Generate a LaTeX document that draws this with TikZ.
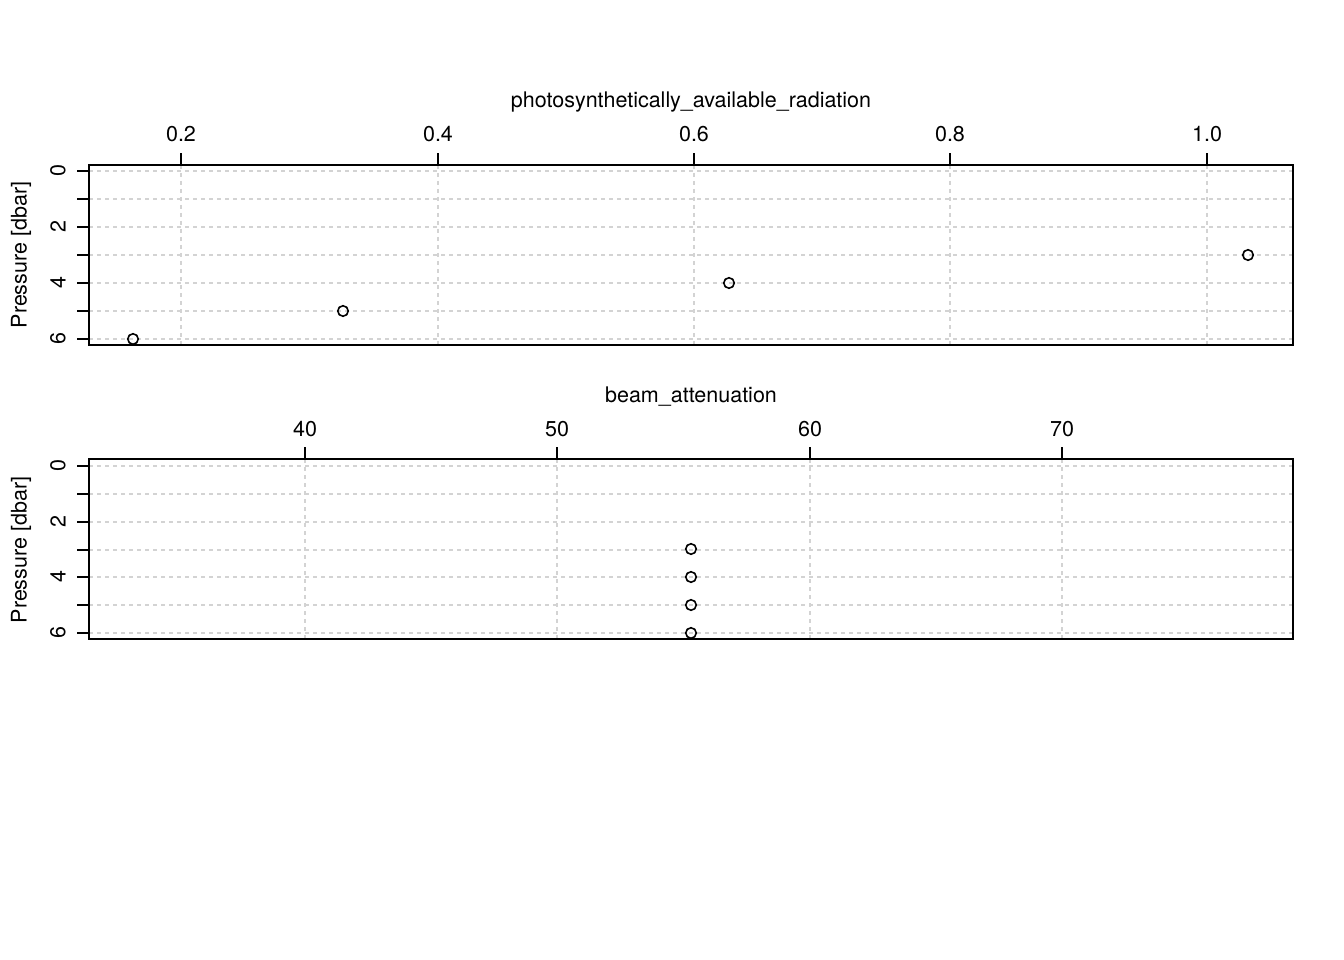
\documentclass[tikz,border=0pt]{standalone}
\usepackage{fontspec}
\setmainfont{TeX Gyre Heros}
\begin{document}
\begin{tikzpicture}[x=1pt,y=-1pt,
  gridline/.style={draw={rgb,255:red,211;green,211;blue,211},line width=1.1pt,dash pattern=on 4pt off 4pt},
  frame/.style={draw=black,line width=1.6pt},
  tick/.style={draw=black,line width=1.6pt},
  lbl/.style={font=\fontsize{21.5}{25}\selectfont,inner sep=0pt},
  pt/.style={circle,draw=black,line width=1.6pt,minimum size=10.5pt,inner sep=0pt}]
\useasboundingbox (0,0) rectangle (1344,960);
% ---------- top panel ----------
\foreach \x in {181,438,694,950,1207} \draw[gridline] (\x,165) -- (\x,345);
\foreach \y in {171,199,227,255,283,311,339} \draw[gridline] (89,\y) -- (1293,\y);
\draw[frame] (89,165) rectangle (1293,345);
\foreach \x/\t in {181/0.2,438/0.4,694/0.6,950/0.8,1207/1.0} {
  \draw[tick] (\x,165) -- (\x,153);
  \node[lbl] at (\x,134) {\t};
}
\foreach \y in {171,199,227,255,283,311,339} \draw[tick] (89,\y) -- (77,\y);
\foreach \y/\t in {171/0,227/2,283/4,339/6} \node[lbl,rotate=90] at (58,\y) {\t};
\node[lbl,rotate=90] (ylabA) at (21,255) {Pressure [dbar]};
\node[lbl] (titleA) at (691,102) {photosynthetically\_available\_radiation};
\node[pt] (a6) at (133,339) {};
\node[pt] (a5) at (343,311) {};
\node[pt] (a4) at (729,283) {};
\node[pt] (a3) at (1248,255) {};
% ---------- bottom panel ----------
\foreach \x in {305,557,810,1062} \draw[gridline] (\x,459) -- (\x,639);
\foreach \y in {466,494,522,550,577,605,633} \draw[gridline] (89,\y) -- (1293,\y);
\draw[frame] (89,459) rectangle (1293,639);
\foreach \x/\t in {305/40,557/50,810/60,1062/70} {
  \draw[tick] (\x,459) -- (\x,447);
  \node[lbl] at (\x,429) {\t};
}
\foreach \y in {466,494,522,550,577,605,633} \draw[tick] (89,\y) -- (77,\y);
\foreach \y/\t in {466/0,522/2,577/4,633/6} \node[lbl,rotate=90] at (58,\y) {\t};
\node[lbl,rotate=90] (ylabB) at (21,550) {Pressure [dbar]};
\node[lbl] (titleB) at (691,397) {beam\_attenuation};
\node[pt] (b3) at (691,549) {};
\node[pt] (b4) at (691,577) {};
\node[pt] (b5) at (691,605) {};
\node[pt] (b6) at (691,633) {};
\end{tikzpicture}
\end{document}
